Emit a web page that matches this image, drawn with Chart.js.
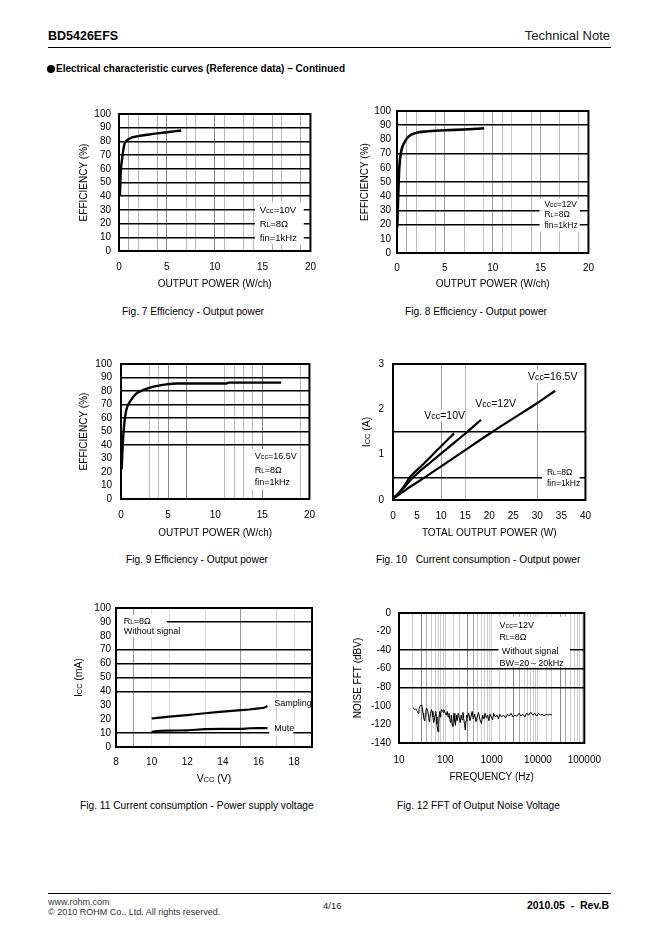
<!DOCTYPE html>
<html>
<head>
<meta charset="utf-8">
<title>BD5426EFS - Electrical characteristic curves</title>
<script src="https://cdn.jsdelivr.net/npm/chart.js@4.4.1/dist/chart.umd.min.js"></script>
<style>
  body { margin: 0; background: #fff; }
  #page { position: relative; width: 662px; height: 936px; overflow: hidden; font-family: "Liberation Sans", Arial, sans-serif; color: #000; }
  #page canvas { position: absolute; }
  .t { position: absolute; white-space: pre; line-height: 1; }
  .cap { font-size: 10.2px; }
  .rule { position: absolute; left: 48px; width: 563px; height: 0; border-top: 1.5px solid #000; }
  .dot { display: inline-block; width: 8px; height: 8px; border-radius: 50%; background: #000; margin-right: 1px; vertical-align: -1px; }
</style>
</head>
<body>
<div id="page">
  <div class="t" style="left:48px;top:30px;font-size:12.5px;font-weight:bold">BD5426EFS</div>
  <div class="t" style="right:52px;top:29px;font-size:13px;color:#222">Technical Note</div>
  <div class="rule" style="top:47px"></div>
  <div class="t" style="left:47px;top:64px;font-size:10px;font-weight:bold"><span class="dot"></span>Electrical characteristic curves (Reference data) – Continued</div>

  <canvas id="fig7"></canvas>
  <canvas id="fig8"></canvas>
  <canvas id="fig9"></canvas>
  <canvas id="fig10"></canvas>
  <canvas id="fig11"></canvas>
  <canvas id="fig12"></canvas>

  <div class="t cap" style="left:122px;top:307px">Fig. 7 Efficiency - Output power</div>
  <div class="t cap" style="left:405px;top:307px">Fig. 8 Efficiency - Output power</div>
  <div class="t cap" style="left:126px;top:555px">Fig. 9 Efficiency - Output power</div>
  <div class="t cap" style="left:376px;top:555px">Fig. 10   Current consumption - Output power</div>
  <div class="t cap" style="left:80px;top:801px">Fig. 11 Current consumption - Power supply voltage</div>
  <div class="t cap" style="left:397px;top:801px">Fig. 12 FFT of Output Noise Voltage</div>

  <div class="rule" style="top:893px"></div>
  <div class="t" style="left:48px;top:898px;font-size:9px;color:#333">www.rohm.com</div>
  <div class="t" style="left:48px;top:908px;font-size:9px;color:#333">© 2010 ROHM Co., Ltd. All rights reserved.</div>
  <div class="t" style="left:323px;top:901px;font-size:9.5px;color:#222">4/16</div>
  <div class="t" style="right:53px;top:900px;font-size:10.5px;font-weight:bold">2010.05  -  Rev.B</div>
</div>

<script>
// ---- data ----

// Fig. 7  Efficiency, Vcc=10V
const fig7Power = [0.1, 0.17, 0.34, 0.55, 0.8, 1.3, 2.2, 3.4, 4.8, 6.5];
const fig7Eff = [40.8, 56, 68, 77.5, 80.6, 82.7, 84.1, 85.3, 86.5, 88];

// Fig. 8  Efficiency, Vcc=12V
const fig8Power = [0.03, 0.1, 0.2, 0.3, 0.45, 0.7, 1.2, 2, 3, 5, 7, 9.1];
const fig8Eff = [18, 35, 55, 65, 72, 77, 82, 84.6, 85.6, 86.4, 87, 87.8];

// Fig. 9  Efficiency, Vcc=16.5V
const fig9Power = [0.07, 0.18, 0.35, 0.56, 0.98, 1.68, 2.39, 3.44, 4.84, 5.9, 11.2, 11.4, 17];
const fig9Eff = [22, 40, 56, 66, 72.4, 78.4, 80.8, 83.2, 84.9, 85.6, 85.6, 86.2, 86.2];

// Fig. 10  Icc vs total output power
const fig10Power10 = [0, 1, 2, 3.5, 6, 9, 12.7];
const fig10Icc10 = [0.03, 0.13, 0.26, 0.5, 0.76, 1.08, 1.47];
const fig10Power12 = [0, 1, 2, 4.2, 8, 12, 15.4, 18.3];
const fig10Icc12 = [0.03, 0.13, 0.24, 0.5, 0.85, 1.2, 1.5, 1.77];
const fig10Power165 = [0, 1, 3, 6.6, 10, 15, 20.6, 25, 30, 33.7];
const fig10Icc165 = [0.03, 0.1, 0.25, 0.5, 0.74, 1.1, 1.5, 1.8, 2.14, 2.41];

// Fig. 11  Icc vs Vcc, no signal
const fig11VccSampling = [10, 11, 12, 13, 14, 15, 15.5, 16, 16.3, 16.5];
const fig11IccSampling = [20.5, 21.8, 23, 24.3, 25.4, 26.5, 27, 27.8, 28.2, 29.5];
const fig11VccMute = [10, 10.3, 11, 12, 13, 14, 15, 15.5, 16, 16.5];
const fig11IccMute = [10.8, 11.5, 11.8, 12, 12.8, 13, 13, 13.5, 13.6, 13.6];

// Fig. 12  noise FFT
const fig12Freq = [20, 21, 22, 23, 24, 25, 26, 27, 28, 29, 30, 31, 32, 33, 34, 35, 36, 37, 38, 39,
  40, 42, 44, 45, 46, 48, 50, 52, 54, 56, 58, 60, 62, 64, 66, 68, 70, 72, 74, 76,
  78, 80, 83, 86, 90, 93, 96, 100, 105, 110, 115, 120, 125, 130, 135, 140, 145, 150, 155, 160,
  165, 170, 175, 180, 190, 200, 210, 220, 230, 240, 250, 260, 270, 280, 290, 300, 320, 340, 360, 380,
  400, 430, 460, 490, 520, 560, 600, 640, 680, 720, 770, 820, 870, 920, 980, 1050, 1100, 1200, 1300, 1400,
  1500, 1650, 1800, 2000, 2200, 2400, 2600, 2900, 3200, 3500, 3900, 4300, 4700, 5200, 5700, 6300, 7000, 7700, 8500, 9400,
  10300, 11300, 12500, 13700, 15000, 16500, 18000, 20000];
const fig12Level = [-102, -103, -104, -103, -105, -106, -108, -104, -101, -100, -99, -100, -102, -108, -112, -115, -116, -110, -105, -103,
  -104, -106, -113, -117, -114, -108, -104, -106, -112, -118, -116, -110, -106, -112, -120, -126, -128, -120, -110, -106,
  -112, -108, -104, -105, -107, -104, -106, -108, -110, -106, -112, -108, -115, -118, -110, -120, -122, -112, -108, -117,
  -121, -114, -110, -116, -108, -113, -118, -110, -115, -107, -114, -120, -126, -116, -110, -113, -108, -116, -111, -106,
  -114, -109, -117, -112, -107, -115, -119, -110, -114, -108, -113, -110, -116, -109, -112, -115, -108, -112, -110, -114,
  -109, -112, -110, -113, -109, -111, -108, -112, -110, -111, -108, -111, -109, -112, -108, -110, -107, -110, -108, -111,
  -108, -110, -109, -111, -109, -110, -109, -110];

// ---- drawing ----
const FAMILY = '"Liberation Sans", Arial, Helvetica, sans-serif';
Chart.defaults.font.family = FAMILY;
Chart.defaults.font.size = 10;
Chart.defaults.color = '#000';

// plot frame positions on the page and label offsets
const GEO = {
  fig7:  {L: 119, R: 312, T: 110, B: 251, yt: 84,  xt: 284, xp: 10, yp: 8, pr: 14},
  fig8:  {L: 397, R: 589, T: 109, B: 253, yt: 365, xt: 284, xp: 9,  yp: 6, pr: 14},
  fig9:  {L: 121, R: 311, T: 359, B: 499, yt: 84,  xt: 533, xp: 10, yp: 9, pr: 14},
  fig10: {L: 393, R: 587, T: 359, B: 500, yt: 366, xt: 533, xp: 10, yp: 9, pr: 14},
  fig11: {L: 116, R: 312, T: 607, B: 747, yt: 78,  xt: 778, xp: 9,  yp: 5, pr: 14},
  fig12: {L: 399, R: 590, T: 609, B: 743, yt: 358, xt: 777, xp: 11, yp: 8, pr: 22},
};

function rich(ctx, parts, x, y, align) {
  let w = 0;
  parts.forEach(([t, s]) => { ctx.font = s + 'px ' + FAMILY; w += ctx.measureText(t).width; });
  let cx = align === 'center' ? x - w / 2 : x;
  const base = parts[0][1];
  ctx.textAlign = 'left';
  ctx.textBaseline = 'alphabetic';
  parts.forEach(([t, s]) => {
    ctx.font = s + 'px ' + FAMILY;
    ctx.fillText(t, cx, y + base * 0.36);
    cx += ctx.measureText(t).width;
  });
}
const sub = (a, b, c, size, k) => [[a, size], [b, size * (k || 0.72)], [c, size]];
const plain = (t, size) => [[t, size]];

// white label boxes, notes, frame and subscripted axis titles
const SHEET = {};
const sheetPlugin = {
  id: 'sheet',
  beforeDatasetsDraw(chart) {
    const opt = SHEET[chart.canvas.id] || {};
    const {ctx} = chart, x = chart.scales.x, y = chart.scales.y;
    ctx.save();
    ctx.fillStyle = '#fff';
    (opt.boxes || []).forEach(b => {
      const x0 = x.getPixelForValue(b[0]), x1 = x.getPixelForValue(b[2]);
      const y0 = y.getPixelForValue(b[1]), y1 = y.getPixelForValue(b[3]);
      ctx.fillRect(x0, y0, x1 - x0, y1 - y0);
    });
    ctx.fillStyle = '#000';
    (opt.notes || []).forEach(n => rich(ctx, n.text, x.getPixelForValue(n.x), y.getPixelForValue(n.y), 'left'));
    ctx.restore();
  },
  afterDraw(chart) {
    const opt = SHEET[chart.canvas.id] || {};
    const {ctx, chartArea: a} = chart;
    ctx.save();
    ctx.strokeStyle = '#000';
    ctx.lineWidth = 2;
    ctx.strokeRect(a.left, a.top, a.width, a.height);
    ctx.fillStyle = '#000';
    if (opt.yTitle) {
      ctx.save();
      ctx.translate(chart.scales.y.left + 6, (a.top + a.bottom) / 2);
      ctx.rotate(-Math.PI / 2);
      rich(ctx, opt.yTitle, 0, 0, 'center');
      ctx.restore();
    }
    if (opt.xTitle) rich(ctx, opt.xTitle, (a.left + a.right) / 2, chart.scales.x.bottom - 6, 'center');
    ctx.restore();
  }
};

const NONE = 'rgba(0,0,0,0)';
const blackAt = vals => c => (c.tick && vals.includes(c.tick.value)) ? '#000' : NONE;
const grayAt = map => c => (c.tick && map[c.tick.value]) || NONE;

function scale(g, axis, o) {
  const s = {
    type: o.type || 'linear', min: o.min, max: o.max,
    border: {display: false},
    grid: {drawTicks: false, color: o.grid, lineWidth: o.lw || 1},
    ticks: {stepSize: o.step, autoSkip: false, maxRotation: 0, minRotation: 0,
      padding: axis === 'x' ? g.xp : g.yp, callback: o.label || (v => v), font: {size: 10}, color: '#000'},
    title: o.title ? {display: true, text: o.title, padding: 0, font: {size: 10}, color: '#000'} : {display: false},
  };
  s.afterFit = axis === 'x' ? (sc => { sc.height = g.xt + 6 - g.B; }) : (sc => { sc.width = g.L - (g.yt - 6); });
  return s;
}

function series(xs, ys, width, smooth) {
  return {
    data: xs.map((x, i) => ({x, y: ys[i]})),
    borderColor: '#000', borderWidth: width, pointRadius: 0, fill: false,
    cubicInterpolationMode: smooth ? 'monotone' : 'default', tension: 0,
  };
}

function makeChart(id, datasets, xo, yo, sheet) {
  const g = GEO[id];
  const left = g.yt - 6, top = g.T - 10;
  const W = g.R + g.pr - left, H = g.xt + 6 - top;
  const cv = document.getElementById(id);
  cv.width = W; cv.height = H;
  cv.style.left = left + 'px'; cv.style.top = top + 'px';
  cv.style.width = W + 'px'; cv.style.height = H + 'px';
  SHEET[id] = sheet;
  return new Chart(cv, {
    type: 'line',
    data: {datasets},
    options: {
      responsive: false, animation: false, devicePixelRatio: 1,
      layout: {padding: {top: 10, right: g.pr, bottom: 0, left: 0}},
      plugins: {legend: {display: false}, tooltip: {enabled: false}},
      scales: {x: scale(g, 'x', xo), y: scale(g, 'y', yo)},
    },
    plugins: [sheetPlugin],
  });
}

const every5 = v => v % 5 === 0 ? v : '';
const effY = lines => ({min: 0, max: 100, step: 10, grid: blackAt(lines), lw: 1.5, title: 'EFFICIENCY (%)'});
const notes3 = (x, ys, size, vcc) => [
  {x, y: ys[0], text: sub('V', 'cc', '=' + vcc, size, 0.8)},
  {x, y: ys[1], text: sub('R', 'L', '=8Ω', size, 0.7)},
  {x, y: ys[2], text: plain('fin=1kHz', size)},
];

// Fig. 7
makeChart('fig7', [series(fig7Power, fig7Eff, 2.4, true)],
  {min: 0, max: 20, step: 1, label: every5, title: 'OUTPUT POWER (W/ch)',
   grid: grayAt({1: '#aaa', 2: '#bbb', 4: '#aaa', 5: '#888', 7: '#bbb', 8: '#bbb', 10: '#888', 11: '#bbb', 13: '#bbb', 14: '#bbb', 16: '#aaa', 17: '#bbb', 19: '#aaa'})},
  effY([10, 20, 30, 40, 50, 60, 70, 80, 90]),
  {boxes: [[14.2, 35.5, 19.3, 5]], notes: notes3(14.7, [30, 20, 10], 9.5, '10V')});

// Fig. 8
makeChart('fig8', [series(fig8Power, fig8Eff, 2.6, true)],
  {min: 0, max: 20, step: 1, label: every5, title: 'OUTPUT POWER (W/ch)',
   grid: grayAt({1: '#aaa', 2: '#bbb', 4: '#bbb', 5: '#999', 7: '#bbb', 9: '#ccc', 10: '#999', 11: '#bbb', 12: '#ccc', 14: '#bbb', 15: '#aaa', 17: '#bbb', 19: '#bbb'})},
  effY([20, 30, 40, 50, 70, 90]),
  {boxes: [[14.9, 38, 19.1, 15]], notes: notes3(15.4, [34.6, 27.5, 19.5], 8.5, '12V')});

// Fig. 9
makeChart('fig9', [series(fig9Power, fig9Eff, 2.4, true)],
  {min: 0, max: 20, step: 1, label: every5, title: 'OUTPUT POWER (W/ch)',
   grid: grayAt({3: '#bbb', 4: '#bbb', 5: '#888', 7: '#888', 11: '#bbb', 12: '#bbb', 13: '#bbb', 14: '#bbb', 15: '#888', 19: '#bbb'})},
  effY([40, 50, 60, 70, 80, 90]),
  {boxes: [[13.9, 37, 18.8, 7]], notes: notes3(14.2, [32, 22, 12.5], 9, '16.5V')});

// Fig. 10
makeChart('fig10', [
    series(fig10Power10, fig10Icc10, 2.2, true),
    series(fig10Power12, fig10Icc12, 2.2, true),
    series(fig10Power165, fig10Icc165, 2.2, true)],
  {min: 0, max: 40, step: 5, title: 'TOTAL OUTPUT POWER (W)', grid: grayAt({10: '#999', 15: '#bbb', 30: '#999'})},
  {min: 0, max: 3, step: 0.5, label: v => Number.isInteger(v) ? v : '', grid: blackAt([0.5, 1.5]), lw: 1.5},
  {boxes: [[6, 2.0, 14.6, 1.74], [16.6, 2.28, 26.2, 2.0], [27.6, 2.88, 39.6, 2.58], [31, 0.72, 38.8, 0.25]],
   notes: [
     {x: 6.5, y: 1.87, text: sub('V', 'cc', '=10V', 10.5, 0.85)},
     {x: 17.1, y: 2.14, text: sub('V', 'cc', '=12V', 10.5, 0.85)},
     {x: 28.05, y: 2.73, text: sub('V', 'cc', '=16.5V', 10.5, 0.85)},
     {x: 32, y: 0.61, text: sub('R', 'L', '=8Ω', 8.5, 0.7)},
     {x: 32, y: 0.37, text: plain('fin=1kHz', 8.5)}],
   yTitle: sub('I', 'CC', ' (A)', 10.5, 0.7)});

// Fig. 11
makeChart('fig11', [
    series(fig11VccSampling, fig11IccSampling, 2.2, true),
    series(fig11VccMute, fig11IccMute, 2.2, true)],
  {min: 8, max: 19, step: 1, label: v => v % 2 === 0 ? v : '',
   grid: grayAt({9: '#999', 10: '#ddd', 11: '#ddd', 13: '#ddd', 15: '#999', 17: '#ccc', 18: '#ddd'})},
  {min: 0, max: 100, step: 10, grid: blackAt([10, 40, 50, 60, 70, 90]), lw: 1.5},
  {boxes: [[8, 95, 10.85, 79], [16.7, 35.5, 18.85, 28.5], [16.6, 18.5, 17.95, 8.5]],
   notes: [
     {x: 8.43, y: 90.5, text: sub('R', 'L', '=8Ω', 9, 0.7)},
     {x: 8.43, y: 83.5, text: plain('Without signal', 9)},
     {x: 16.88, y: 32, text: plain('Sampling', 9)},
     {x: 16.88, y: 13.8, text: plain('Mute', 9)}],
   yTitle: sub('I', 'CC', ' (mA)', 10.5, 0.7),
   xTitle: sub('V', 'CC', ' (V)', 10.5, 0.7)});

// Fig. 12
const logShade = c => {
  if (!c.tick) return NONE;
  const v = c.tick.value;
  const sig = Math.round(v / Math.pow(10, Math.floor(Math.log10(v) + 1e-9)));
  return sig === 3 ? '#888' : sig === 4 ? '#aaa' : '#ccc';
};
makeChart('fig12', [series(fig12Freq, fig12Level, 1, false)],
  {type: 'logarithmic', min: 10, max: 100000, title: 'FREQUENCY (Hz)', grid: logShade,
   label: v => [10, 100, 1000, 10000, 100000].includes(v) ? String(v) : ''},
  {min: -140, max: 0, step: 20, grid: blackAt([-40, -60, -80]), lw: 1.5, title: 'NOISE FFT (dBV)'},
  {boxes: [[1400, -4, 49000, -58]],
   notes: [
     {x: 1480, y: -12.2, text: sub('V', 'cc', '=12V', 9, 0.8)},
     {x: 1480, y: -26, text: sub('R', 'L', '=8Ω', 9, 0.7)},
     {x: 1660, y: -40.2, text: plain('Without signal', 9)},
     {x: 1480, y: -53.5, text: plain('BW=20～20kHz', 9)}]});
</script>
</body>
</html>
